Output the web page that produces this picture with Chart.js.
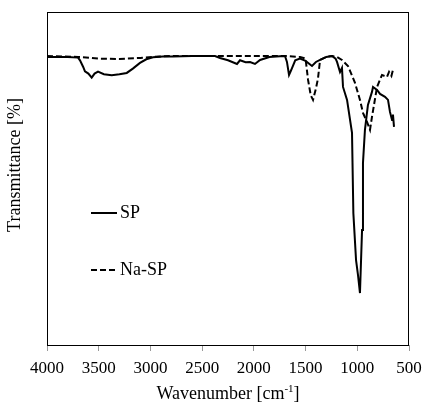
<!DOCTYPE html>
<html>
<head>
<meta charset="utf-8">
<script src="https://cdn.jsdelivr.net/npm/chart.js@4"></script>
<style>
  html, body { margin: 0; padding: 0; background: #fff; }
  canvas { display: block; }
</style>
</head>
<body>
<canvas id="c" width="424" height="405"></canvas>
<script>
// ---- data ----
const xTicks = [4000, 3500, 3000, 2500, 2000, 1500, 1000, 500];

const spWavenumber = [4000, 3800, 3700, 3681, 3650, 3633, 3600, 3568, 3540, 3507, 3450, 3374, 3300, 3229, 3170, 3101, 3040, 2975, 2880, 2782, 2600, 2450, 2376, 2327, 2250, 2163, 2134, 2080, 2037, 1989, 1940, 1850, 1747, 1699, 1680, 1660, 1640, 1600, 1554, 1500, 1438, 1400, 1360, 1300, 1244, 1210, 1196, 1167, 1148, 1138, 1099, 1051, 1038, 1012, 993, 974, 954, 945, 926, 897, 858, 848, 809, 780, 732, 703, 684, 664, 655, 645];
const spTransmittance = [86.5, 86.5, 86.3, 85.5, 83.5, 82.2, 81.5, 80.3, 81.5, 82.1, 81.3, 81.0, 81.3, 81.7, 83.0, 84.7, 85.8, 86.4, 86.6, 86.6, 86.8, 86.8, 86.8, 86.2, 85.5, 84.4, 85.5, 84.9, 85.0, 84.4, 85.6, 86.5, 86.7, 86.8, 85.0, 81.1, 82.5, 85.5, 86.0, 85.3, 83.8, 85.0, 85.6, 86.5, 86.8, 86.0, 85.0, 82.0, 83.2, 77.5, 73.6, 63.7, 39.6, 25.5, 21.0, 15.6, 34.5, 54.7, 64.6, 72.1, 76.0, 77.5, 76.6, 75.4, 74.5, 73.6, 70.0, 67.6, 69.2, 65.5];

const naWavenumber = [4000, 3700, 3500, 3300, 3100, 2975, 2800, 1800, 1700, 1554, 1500, 1476, 1450, 1428, 1400, 1380, 1360, 1300, 1244, 1196, 1148, 1090, 1022, 974, 945, 906, 877, 858, 809, 761, 713, 693, 670, 655];
const naTransmittance = [86.8, 86.5, 86.0, 85.9, 86.2, 86.5, 86.8, 86.8, 86.8, 86.5, 86.0, 79.6, 75.0, 73.6, 77.0, 80.0, 85.6, 86.5, 86.8, 86.5, 85.6, 83.8, 78.7, 73.6, 69.7, 67.0, 64.6, 68.5, 77.5, 81.1, 80.5, 82.0, 80.8, 82.6];

const seriesLabels = ['SP', 'Na-SP'];
const xTitle = 'Wavenumber [cm';
const xTitleSup = '-1';
const xTitleEnd = ']';
const yTitle = 'Transmittance [%]';

const toPoints = (xs, ys) => xs.map((x, i) => ({ x: x, y: ys[i] }));

const FONT = '"Liberation Serif", "Times New Roman", serif';

const decorPlugin = {
  id: 'decor',
  afterDraw(chart) {
    const ctx = chart.ctx;
    const a = chart.chartArea;
    ctx.save();
    // plot frame
    ctx.strokeStyle = '#000';
    ctx.lineWidth = 1;
    ctx.strokeRect(Math.round(a.left) + 0.5, Math.round(a.top) + 0.5,
                   Math.round(a.right - a.left) - 1, Math.round(a.bottom - a.top));

    // x-axis title with superscript
    ctx.fillStyle = '#000';
    ctx.textBaseline = 'alphabetic';
    ctx.font = '18px ' + FONT;
    const w1 = ctx.measureText(xTitle).width;
    const w3 = ctx.measureText(xTitleEnd).width;
    ctx.font = '11px ' + FONT;
    const w2 = ctx.measureText(xTitleSup).width;
    const total = w1 + w2 + w3;
    const cx = (a.left + a.right) / 2;
    let x = cx - total / 2;
    const by = 399;
    ctx.font = '18px ' + FONT;
    ctx.textAlign = 'left';
    ctx.fillText(xTitle, x, by);
    x += w1;
    ctx.font = '11px ' + FONT;
    ctx.fillText(xTitleSup, x, by - 7);
    x += w2;
    ctx.font = '18px ' + FONT;
    ctx.fillText(xTitleEnd, x, by);

    // y-axis title (rotated)
    ctx.save();
    ctx.translate(19.5, 165);
    ctx.rotate(-Math.PI / 2);
    ctx.textAlign = 'center';
    ctx.font = '18px ' + FONT;
    ctx.fillText(yTitle, 0, 0);
    ctx.restore();

    // legend inside plot
    const items = [
      { y: 213, ds: chart.data.datasets[0] },
      { y: 270, ds: chart.data.datasets[1] }
    ];
    items.forEach(it => {
      ctx.beginPath();
      ctx.strokeStyle = it.ds.borderColor;
      ctx.lineWidth = 2;
      ctx.setLineDash(it.ds.borderDash || []);
      ctx.moveTo(91, it.y);
      ctx.lineTo(117, it.y);
      ctx.stroke();
      ctx.setLineDash([]);
      ctx.fillStyle = '#000';
      ctx.font = '18px ' + FONT;
      ctx.textAlign = 'left';
      ctx.textBaseline = 'middle';
      ctx.fillText(it.ds.label, 120, it.y);
    });
    ctx.restore();
  }
};

new Chart(document.getElementById('c'), {
  type: 'line',
  data: {
    datasets: [
      {
        label: seriesLabels[0],
        data: toPoints(spWavenumber, spTransmittance),
        borderColor: '#000',
        borderWidth: 2,
        pointRadius: 0,
        tension: 0,
        fill: false
      },
      {
        label: seriesLabels[1],
        data: toPoints(naWavenumber, naTransmittance),
        borderColor: '#000',
        borderWidth: 2,
        borderDash: [6, 3],
        pointRadius: 0,
        tension: 0,
        fill: false
      }
    ]
  },
  options: {
    responsive: false,
    animation: false,
    devicePixelRatio: 1,
    layout: { padding: { left: 0, right: 15, top: 12, bottom: 0 } },
    plugins: {
      legend: { display: false },
      tooltip: { enabled: false }
    },
    scales: {
      x: {
        type: 'linear',
        reverse: true,
        min: 500,
        max: 4000,
        afterBuildTicks(scale) { scale.ticks = xTicks.map(v => ({ value: v })); },
        afterFit(scale) {
          scale.height = 60;
          scale.paddingLeft = 0;
          scale.paddingRight = 0;
        },
        ticks: {
          color: '#000',
          font: { family: FONT, size: 17 },
          padding: 7,
          maxRotation: 0,
          autoSkip: false,
          callback: (v) => String(v)
        },
        grid: {
          drawOnChartArea: false,
          drawTicks: true,
          tickLength: 6,
          color: '#999'
        },
        border: { display: false },
        title: { display: false }
      },
      y: {
        min: 0,
        max: 100,
        afterFit(scale) {
          scale.width = 47;
          scale.paddingTop = 0;
          scale.paddingBottom = 0;
        },
        ticks: { display: false },
        grid: { display: false },
        border: { display: false },
        title: { display: false }
      }
    }
  },
  plugins: [decorPlugin]
});
</script>
</body>
</html>
